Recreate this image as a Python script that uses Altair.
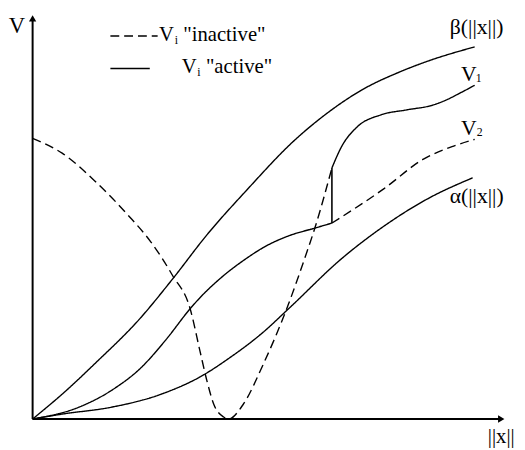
import altair as alt
import pandas as pd

# Curve readings (x = ||x|| , y = V), in units
beta_x = [0, 32, 64, 109, 142, 177, 217, 267, 297, 334, 374, 400, 449]
beta_y = [0, 27, 57, 102, 142, 187, 232, 284, 309, 334, 353, 363, 378]

alpha_x = [0, 30, 80, 130, 174, 197, 234, 260, 314, 357, 400, 447]
alpha_y = [0, 5, 12, 25, 45, 60, 88, 112, 163, 196, 223, 245]

v2_active_x = [0, 47, 80, 110, 135, 160, 167, 192, 217, 234, 260, 287, 304]
v2_active_y = [0, 12, 29, 52, 80, 112, 120, 144, 163, 174, 186, 194, 199]
v2_inactive_x = [304, 357, 397, 427, 449]
v2_inactive_y = [199, 234, 264, 277, 284]

v1_inactive_x = [0, 30, 64, 97, 120, 142, 160, 170, 177, 184, 194, 199, 214, 234, 260, 277, 287, 304]
v1_inactive_y = [285, 270, 241, 207, 180, 146, 112, 69, 39, 15, 2, 0, 15, 55, 117, 165, 195, 255]
v1_active_x = [304, 314, 330, 354, 380, 407, 420, 434, 449]
v1_active_y = [255, 277, 297, 309, 314, 319, 324, 331, 339]

switch_x = [304]
switch_lo = [199]
switch_hi = [255]

def seg(name, style, xs, ys):
    return pd.DataFrame({"seg": name, "style": style, "i": range(len(xs)), "x": xs, "y": ys})

curves = pd.concat([
    seg("beta", "active", beta_x, beta_y),
    seg("alpha", "active", alpha_x, alpha_y),
    seg("v2a", "active", v2_active_x, v2_active_y),
    seg("v2i", "inactive", v2_inactive_x, v2_inactive_y),
    seg("v1i", "inactive", v1_inactive_x, v1_inactive_y),
    seg("v1a", "active", v1_active_x, v1_active_y),
], ignore_index=True)

xs = alt.Scale(domain=[-25, 492], nice=False, zero=False)
ys = alt.Scale(domain=[-28, 414], nice=False, zero=False)
X = lambda f: alt.X(f, type="quantitative", scale=xs, axis=None)
Y = lambda f: alt.Y(f, type="quantitative", scale=ys, axis=None)

dash_scale = alt.Scale(domain=["active", "inactive"], range=[[1, 0], [9, 5]])

lines = alt.Chart(curves).mark_line(interpolate="monotone", strokeWidth=1.4, color="black").encode(
    x=X("x"), y=Y("y"), detail="seg:N", order="i:Q",
    strokeDash=alt.StrokeDash("style:N", scale=dash_scale, legend=None),
)

switch = alt.Chart(pd.DataFrame({"x": switch_x, "y": switch_lo, "y2": switch_hi})).mark_rule(
    strokeWidth=1.6, color="black").encode(x=X("x"), y=Y("y"), y2="y2")

# axes
axes_df = pd.DataFrame({"x": [0, 0], "y": [0, 0], "x2": [476, 0], "y2": [0, 405]})
axes = alt.Chart(axes_df).mark_rule(strokeWidth=2, color="black").encode(
    x=X("x"), y=Y("y"), x2="x2", y2="y2")
arrows_df = pd.DataFrame({"x": [476, 0], "y": [0, 407], "shape": ["triangle-right", "triangle-up"]})
arrows = alt.Chart(arrows_df).mark_point(filled=True, size=55, color="black", opacity=1).encode(
    x=X("x"), y=Y("y"), shape=alt.Shape("shape:N", scale=None))

# legend
leg_df = pd.DataFrame({"x": [79, 79], "x2": [127, 119], "y": [389, 356], "style": ["inactive", "active"]})
leg_lines = alt.Chart(leg_df).mark_rule(strokeWidth=1.4, color="black").encode(
    x=X("x"), x2="x2", y=Y("y"),
    strokeDash=alt.StrokeDash("style:N", scale=alt.Scale(domain=["active", "inactive"], range=[[1, 0], [12, 6]]), legend=None))

FONT = "Liberation Serif"
center_text = pd.DataFrame({
    "t": ["V", "||x||", "β(||x||)", "α(||x||)", "V", "1", "V", "2", "V", "i", "V", "i"],
    "x": [-16, 476, 451, 451, 443, 453, 443, 454, 136, 146, 159, 169],
    "y": [399, -18, 398, 226, 350, 346, 295, 291, 390, 385, 357, 352],
    "s": [23, 21, 22, 22, 22, 12, 22, 12, 21, 12, 21, 12],
})
texts_c = alt.Chart(center_text).mark_text(font=FONT, color="black", align="center", baseline="middle").encode(
    x=X("x"), y=Y("y"), text="t:N", size=alt.Size("s:Q", scale=None))

left_text = pd.DataFrame({
    "t": ['"inactive"', '"active"'],
    "x": [153, 176],
    "y": [390, 357],
    "s": [21, 21],
})
texts_l = alt.Chart(left_text).mark_text(font=FONT, color="black", align="left", baseline="middle").encode(
    x=X("x"), y=Y("y"), text="t:N", size=alt.Size("s:Q", scale=None))

chart = alt.layer(axes, arrows, lines, switch, leg_lines, texts_c, texts_l).properties(
    width=517, height=442, padding=0,
    autosize=alt.AutoSizeParams(type="none"),
).configure_view(stroke=None)

chart.save("out.html", embed_options={"renderer": "svg", "actions": False})
